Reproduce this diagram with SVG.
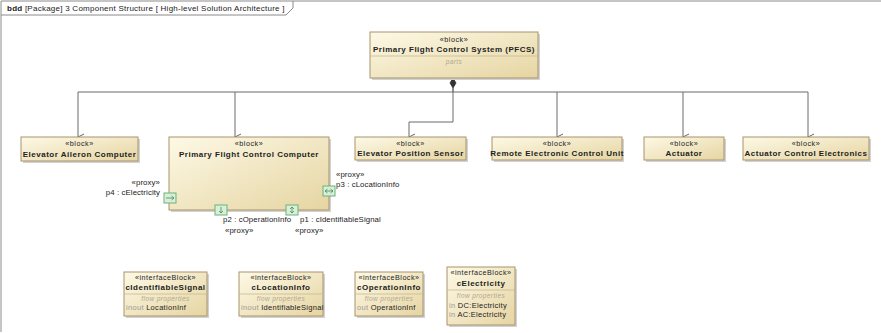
<svg xmlns="http://www.w3.org/2000/svg" width="881" height="333" viewBox="0 0 881 333">
  <defs>
    <linearGradient id="blockFill" x1="0" y1="0" x2="1" y2="1">
      <stop offset="0" stop-color="#fdf9e6"/>
      <stop offset="1" stop-color="#e6d5a2"/>
    </linearGradient>
    <marker id="openArrow" markerWidth="8" markerHeight="8" refX="4" refY="7" orient="auto" markerUnits="userSpaceOnUse">
      <path d="M1,1 L4,7 L7,1" fill="none" stroke="#555" stroke-width="0.9"/>
    </marker>
    <style>
      text { font-family: "Liberation Sans", Arial, sans-serif; fill: #222; }
      .shadow { fill: #d2d2d2; }
      .block { fill: url(#blockFill); stroke: #a8946a; stroke-width: 1; }
      .sep { stroke: #c8b98f; stroke-width: 0.8; }
      .stereo { font-size: 7.2px; letter-spacing: 0.5px; text-anchor: middle; }
      .name { font-size: 8px; font-weight: bold; letter-spacing: 0.5px; text-anchor: middle; }
      .compart { font-size: 6.5px; font-style: italic; fill: #b0a890; letter-spacing: 0.4px; text-anchor: middle; }
      .prop { font-size: 7.5px; letter-spacing: 0.3px; }
      .dir { fill: #9a9a9a; }
      .lbl { font-size: 7.8px; letter-spacing: 0.1px; }
      .wire { fill: none; stroke: #6a6a6a; stroke-width: 1; }
      .port { fill: #d8efd8; stroke: #6cb27a; stroke-width: 1; }
      .picon { fill: none; stroke: #4a8a58; stroke-width: 0.8; }
    </style>
  </defs>

  <rect width="881" height="333" fill="#ffffff"/>

  <!-- frame -->
  <g id="frame">
    <path d="M1,332 V1 H881" fill="none" stroke="#8a8a8a" stroke-width="1"/>
    <path d="M1,15 H286 L293,8 V1" fill="none" stroke="#8a8a8a" stroke-width="1"/>
    <text x="7" y="11" font-size="8px" letter-spacing="0.25px" fill="#333"><tspan font-weight="bold">bdd</tspan> [Package] 3 Component Structure [ High-level Solution Architecture ]</text>
  </g>

  <!-- connectors -->
  <g id="connectors">
    <path class="wire" d="M453,88 V92"/>
    <path class="wire" d="M78,92 H808"/>
    <path class="wire" d="M78,92 V137" marker-end="url(#openArrow)"/>
    <path class="wire" d="M235,92 V137" marker-end="url(#openArrow)"/>
    <path class="wire" d="M557,92 V137" marker-end="url(#openArrow)"/>
    <path class="wire" d="M683,92 V137" marker-end="url(#openArrow)"/>
    <path class="wire" d="M808,92 V137" marker-end="url(#openArrow)"/>
    <path class="wire" d="M453,88 V122 H409 V137" marker-end="url(#openArrow)"/>
    <path d="M453,78 L456,83 L453,88 L450,83 Z" fill="#333" stroke="#333" stroke-width="0.8"/>
  </g>

  <!-- Primary Flight Control System -->
  <g id="pfcs">
    <rect class="shadow" x="372" y="34" width="168" height="46"/>
    <rect class="block" x="370" y="32" width="168" height="46"/>
    <text class="stereo" x="454" y="42">«block»</text>
    <text class="name" x="454" y="52">Primary Flight Control System (PFCS)</text>
    <line class="sep" x1="370" y1="56" x2="538" y2="56"/>
    <text class="compart" x="454" y="64">parts</text>
  </g>

  <g id="elevator-aileron-computer">
    <rect class="shadow" x="23" y="139" width="117" height="24"/>
    <rect class="block" x="21" y="137" width="117" height="24"/>
    <text class="stereo" x="79.5" y="146">«block»</text>
    <text class="name" x="79.5" y="157">Elevator Aileron Computer</text>
  </g>

  <g id="pfcc">
    <rect class="shadow" x="171" y="139" width="160" height="73"/>
    <rect class="block" x="169" y="137" width="160" height="73"/>
    <text class="stereo" x="249" y="146">«block»</text>
    <text class="name" x="249" y="157">Primary Flight Control Computer</text>
    <!-- p4 -->
    <rect class="port" x="164" y="193" width="12" height="10"/>
    <path class="picon" d="M166,198 H174 M171.5,196 L174,198 L171.5,200"/>
    <text class="lbl" x="160" y="185" text-anchor="end">«proxy»</text>
    <text class="lbl" x="160" y="195" text-anchor="end">p4 : cElectricity</text>
    <!-- p3 -->
    <rect class="port" x="323" y="186" width="12" height="10"/>
    <path class="picon" d="M325,191 H333 M327.5,189 L325,191 L327.5,193 M330.5,189 L333,191 L330.5,193"/>
    <text class="lbl" x="336" y="177">«proxy»</text>
    <text class="lbl" x="336" y="187">p3 : cLocationInfo</text>
    <!-- p2 -->
    <rect class="port" x="215" y="205" width="12" height="10"/>
    <path class="picon" d="M221,207 V213 M219,211 L221,213 L223,211"/>
    <text class="lbl" x="223" y="222">p2 : cOperationInfo</text>
    <text class="lbl" x="225" y="233">«proxy»</text>
    <!-- p1 -->
    <rect class="port" x="286" y="205" width="12" height="10"/>
    <path class="picon" d="M292,207 V213 M290,209 L292,207 L294,209 M290,211 L292,213 L294,211"/>
    <text class="lbl" x="300" y="222">p1 : cIdentifiableSignal</text>
    <text class="lbl" x="295" y="233">«proxy»</text>
  </g>

  <g id="elevator-position-sensor">
    <rect class="shadow" x="357" y="139" width="111" height="23"/>
    <rect class="block" x="355" y="137" width="111" height="23"/>
    <text class="stereo" x="410.5" y="146">«block»</text>
    <text class="name" x="410.5" y="156">Elevator Position Sensor</text>
  </g>

  <g id="remote-electronic-control-unit">
    <rect class="shadow" x="494" y="139" width="130" height="23"/>
    <rect class="block" x="492" y="137" width="130" height="23"/>
    <text class="stereo" x="557" y="146">«block»</text>
    <text class="name" x="557" y="156">Remote Electronic Control Unit</text>
  </g>

  <g id="actuator">
    <rect class="shadow" x="646" y="139" width="80" height="23"/>
    <rect class="block" x="644" y="137" width="80" height="23"/>
    <text class="stereo" x="684" y="146">«block»</text>
    <text class="name" x="684" y="156">Actuator</text>
  </g>

  <g id="actuator-control-electronics">
    <rect class="shadow" x="745" y="139" width="126" height="23"/>
    <rect class="block" x="743" y="137" width="126" height="23"/>
    <text class="stereo" x="806" y="146">«block»</text>
    <text class="name" x="806" y="156">Actuator Control Electronics</text>
  </g>

  <!-- interface blocks -->
  <g id="cidentifiable-signal">
    <rect class="shadow" x="126" y="274" width="83" height="44"/>
    <rect class="block" x="124" y="272" width="83" height="44"/>
    <text class="stereo" x="165.5" y="280">«interfaceBlock»</text>
    <text class="name" x="165.5" y="290">cIdentifiableSignal</text>
    <line class="sep" x1="124" y1="294" x2="207" y2="294"/>
    <text class="compart" x="165.5" y="301">flow properties</text>
    <text class="prop" x="126" y="310"><tspan class="dir">inout</tspan> LocationInf</text>
  </g>

  <g id="clocation-info">
    <rect class="shadow" x="241" y="274" width="84" height="44"/>
    <rect class="block" x="239" y="272" width="84" height="44"/>
    <text class="stereo" x="281" y="280">«interfaceBlock»</text>
    <text class="name" x="281" y="290">cLocationInfo</text>
    <line class="sep" x1="239" y1="294" x2="323" y2="294"/>
    <text class="compart" x="281" y="301">flow properties</text>
    <text class="prop" x="241" y="310"><tspan class="dir">inout</tspan> IdentifiableSignal</text>
  </g>

  <g id="coperation-info">
    <rect class="shadow" x="357" y="274" width="68" height="44"/>
    <rect class="block" x="355" y="272" width="68" height="44"/>
    <text class="stereo" x="389" y="280">«interfaceBlock»</text>
    <text class="name" x="389" y="290">cOperationInfo</text>
    <line class="sep" x1="355" y1="294" x2="423" y2="294"/>
    <text class="compart" x="389" y="301">flow properties</text>
    <text class="prop" x="357" y="310"><tspan class="dir">out</tspan> OperationInf</text>
  </g>

  <g id="celectricity">
    <rect class="shadow" x="449" y="269" width="68" height="58"/>
    <rect class="block" x="447" y="267" width="68" height="58"/>
    <text class="stereo" x="481" y="275">«interfaceBlock»</text>
    <text class="name" x="481" y="286">cElectricity</text>
    <line class="sep" x1="447" y1="290" x2="515" y2="290"/>
    <text class="compart" x="481" y="298">flow properties</text>
    <text class="prop" x="449" y="308"><tspan class="dir">in</tspan> DC:Electricity</text>
    <text class="prop" x="449" y="317"><tspan class="dir">in</tspan> AC:Electricity</text>
  </g>
</svg>
